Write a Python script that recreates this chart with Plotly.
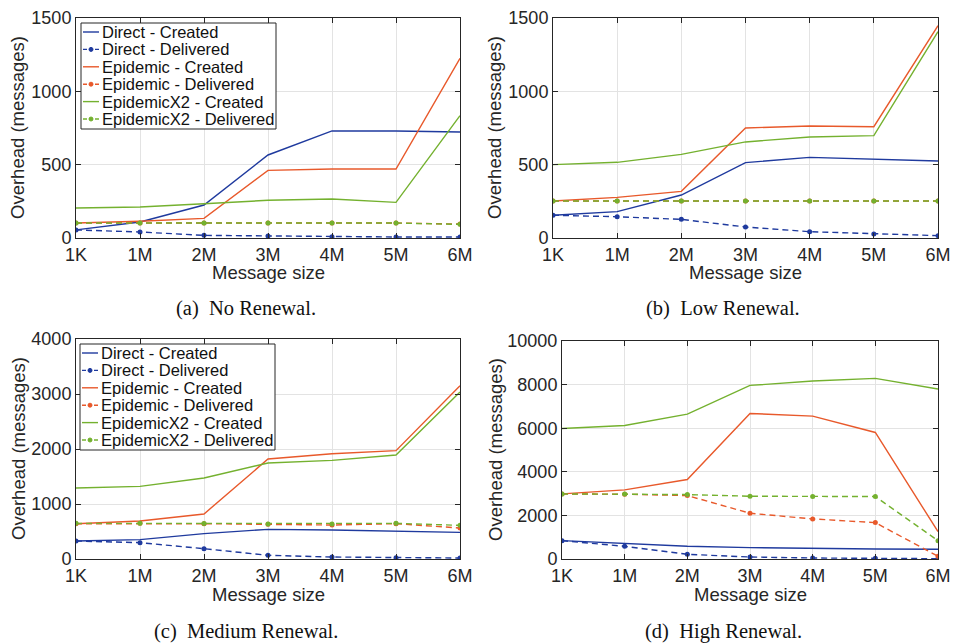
import plotly.graph_objects as go

sizes = ["1K", "1M", "2M", "3M", "4M", "5M", "6M"]
series_names = ["Direct - Created", "Direct - Delivered",
                "Epidemic - Created", "Epidemic - Delivered",
                "EpidemicX2 - Created", "EpidemicX2 - Delivered"]

# (a) No Renewal
no_direct_created = [55, 109, 225, 566, 730, 730, 723]
no_direct_delivered = [55, 41, 18, 14, 9, 7, 7]
no_epidemic_created = [102, 114, 134, 461, 470, 470, 1225]
no_epidemic_delivered = [102, 102, 102, 102, 102, 102, 95]
no_x2_created = [205, 211, 234, 257, 266, 243, 834]
no_x2_delivered = [102, 102, 102, 102, 102, 102, 93]

# (b) Low Renewal
low_direct_created = [155, 180, 293, 514, 550, 539, 525]
low_direct_delivered = [155, 145, 127, 75, 43, 27, 16]
low_epidemic_created = [252, 277, 318, 750, 764, 759, 1448]
low_epidemic_delivered = [252, 252, 252, 252, 252, 252, 252]
low_x2_created = [500, 516, 570, 655, 689, 698, 1407]
low_x2_delivered = [252, 252, 252, 252, 252, 252, 252]

# (c) Medium Renewal
med_direct_created = [327, 352, 461, 539, 527, 503, 485]
med_direct_delivered = [327, 297, 188, 67, 36, 24, 18]
med_epidemic_created = [642, 691, 818, 1818, 1915, 1970, 3152]
med_epidemic_delivered = [642, 648, 642, 630, 618, 642, 564]
med_x2_created = [1291, 1321, 1473, 1745, 1794, 1891, 3036]
med_x2_delivered = [648, 648, 645, 636, 636, 648, 612]

# (d) High Renewal
high_direct_created = [842, 720, 582, 521, 475, 459, 444]
high_direct_delivered = [842, 582, 214, 92, 46, 31, 15]
high_epidemic_created = [2986, 3170, 3645, 6677, 6554, 5804, 1256]
high_epidemic_delivered = [2986, 2971, 2910, 2098, 1838, 1669, 123]
high_x2_created = [5988, 6126, 6646, 7963, 8162, 8285, 7795]
high_x2_delivered = [2986, 2986, 2956, 2879, 2864, 2864, 842]

captions = ["(a)\u00a0 No Renewal.", "(b)\u00a0 Low Renewal.",
            "(c)\u00a0 Medium Renewal.", "(d)\u00a0 High Renewal."]
y_max = [1500, 1500, 4000, 10000]
y_dtick = [500, 500, 1000, 2000]

panels = [
    [no_direct_created, no_direct_delivered, no_epidemic_created,
     no_epidemic_delivered, no_x2_created, no_x2_delivered],
    [low_direct_created, low_direct_delivered, low_epidemic_created,
     low_epidemic_delivered, low_x2_created, low_x2_delivered],
    [med_direct_created, med_direct_delivered, med_epidemic_created,
     med_epidemic_delivered, med_x2_created, med_x2_delivered],
    [high_direct_created, high_direct_delivered, high_epidemic_created,
     high_epidemic_delivered, high_x2_created, high_x2_delivered],
]

BLUE = "#1f3a9e"
ORANGE = "#e8592b"
GREEN = "#74b12f"
colors = [BLUE, BLUE, ORANGE, ORANGE, GREEN, GREEN]

W, H = 954, 643
# plot areas in pixels (left, right, top, bottom)
areas = [(76, 460, 18, 238), (553, 938, 18, 238),
         (76, 460, 339, 559), (562, 938, 341, 559)]
# legend boxes in pixels (left, top) for panels a and c
legend_boxes = {0: (81, 23), 2: (80, 344)}
LEG_W, LEG_H, LEG_ROW = 195, 106, 17.4

fig = go.Figure()
TXT = "#262626"
FONT = "Liberation Sans, Arial, Helvetica, sans-serif"
DASH = "6px,4px"


def px(x):
    return x / W


def py(y):
    return 1 - y / H


for p, data in enumerate(panels):
    xa = "x" if p == 0 else f"x{p+1}"
    ya = "y" if p == 0 else f"y{p+1}"
    for s, vals in enumerate(data):
        delivered = (s % 2 == 1)
        fig.add_trace(go.Scatter(
            x=sizes, y=vals, xaxis=xa, yaxis=ya,
            name=series_names[s],
            mode="lines+markers" if delivered else "lines",
            line=dict(color=colors[s], width=1.4,
                      dash=DASH if delivered else "solid"),
            marker=dict(size=5, color=colors[s]),
            showlegend=False,
        ))
    l, r, t, b = areas[p]
    axis_common = dict(showline=True, linecolor=TXT, linewidth=1,
                       mirror="ticks", ticks="inside", ticklen=5,
                       tickcolor=TXT, showgrid=True, gridcolor="#e3e3e3",
                       gridwidth=1, zeroline=False,
                       tickfont=dict(family=FONT, size=18, color=TXT))
    xkey = "xaxis" if p == 0 else f"xaxis{p+1}"
    ykey = "yaxis" if p == 0 else f"yaxis{p+1}"
    fig.update_layout(**{
        xkey: dict(domain=[px(l), px(r)], anchor=ya, type="category",
                   range=[0, 6], **axis_common),
        ykey: dict(domain=[py(b), py(t)], anchor=xa, tickformat="d",
                   range=[0, y_max[p]], dtick=y_dtick[p], **axis_common),
    })
    ox = 477 * (p % 2)
    # axis titles
    fig.add_annotation(text="Message size", xref="paper", yref="paper",
                       x=px((l + r) / 2), y=py(b + 35),
                       xanchor="center", yanchor="middle", showarrow=False,
                       font=dict(family=FONT, size=18.5, color=TXT))
    fig.add_annotation(text="Overhead (messages)", xref="paper", yref="paper",
                       x=px(ox + 18), y=py((t + b) / 2),
                       xanchor="center", yanchor="middle",
                       textangle=-90, showarrow=False,
                       font=dict(family=FONT, size=18.5, color=TXT))
    fig.add_annotation(text=captions[p], xref="paper", yref="paper",
                       x=px(ox + 246), y=py(308 + 323 * (p // 2)),
                       xanchor="center", yanchor="middle", showarrow=False,
                       font=dict(family="Liberation Serif, Times New Roman, serif",
                                 size=20.5, color="#111111"))

    # legend (drawn as layout items) for panels a and c
    if p in legend_boxes:
        lx, ly = legend_boxes[p]
        fig.add_shape(type="rect", xref="paper", yref="paper",
                      x0=px(lx), x1=px(lx + LEG_W), y0=py(ly + LEG_H), y1=py(ly),
                      line=dict(color=TXT, width=1), fillcolor="white",
                      layer="above")
        for s, name in enumerate(series_names):
            cy = ly + 9 + LEG_ROW * s
            delivered = (s % 2 == 1)
            fig.add_shape(type="line", xref="paper", yref="paper",
                          x0=px(lx + 2), x1=px(lx + 18), y0=py(cy), y1=py(cy),
                          line=dict(color=colors[s], width=1.4,
                                    dash="4px,2px" if delivered else "solid"),
                          layer="above")
            if delivered:
                fig.add_shape(type="circle", xref="paper", yref="paper",
                              x0=px(lx + 8), x1=px(lx + 12),
                              y0=py(cy + 2), y1=py(cy - 2),
                              line=dict(color=colors[s], width=1),
                              fillcolor=colors[s], layer="above")
            fig.add_annotation(text=name, xref="paper", yref="paper",
                               x=px(lx + 19), y=py(cy),
                               xanchor="left", yanchor="middle",
                               showarrow=False,
                               font=dict(family=FONT, size=16.5, color="#111111"))

fig.update_layout(
    width=W, height=H,
    margin=dict(l=0, r=0, t=0, b=0, autoexpand=False),
    paper_bgcolor="white", plot_bgcolor="white",
    showlegend=False,
)

fig.write_html("out.html",
               config={"displayModeBar": False},
               post_script="document.body.style.margin='0px';"
                           "document.body.style.overflow='hidden';")
